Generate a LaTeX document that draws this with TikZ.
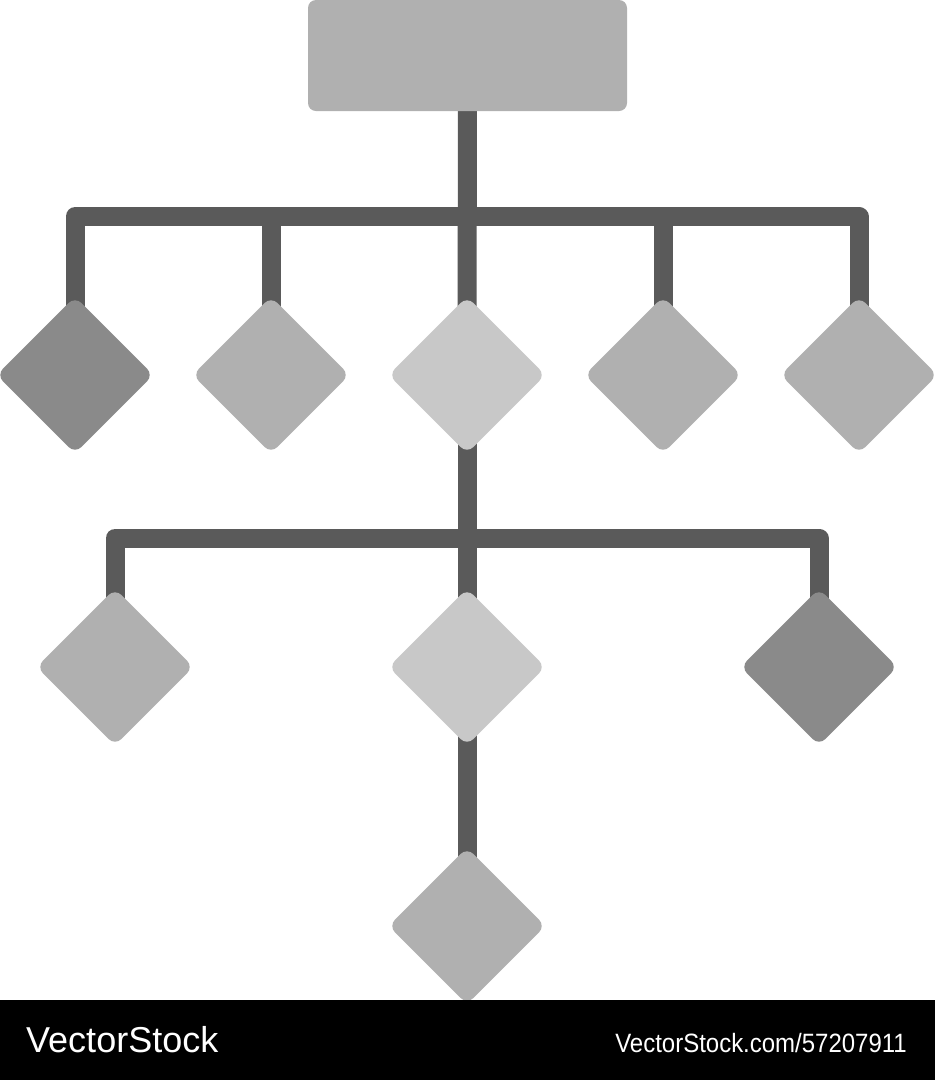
\documentclass[tikz,border=0pt]{standalone}
\usepackage{fontspec}
\newfontfamily\wmfont{Liberation Sans}
\usetikzlibrary{shapes.geometric,backgrounds}
\definecolor{linegray}{HTML}{5A5A5A}
\definecolor{darkgray}{HTML}{8A8A8A}
\definecolor{midgray}{HTML}{B0B0B0}
\definecolor{lightgray}{HTML}{C8C8C8}
\begin{document}
\begin{tikzpicture}[x=1pt,y=-1pt,
  dia/.style={diamond, minimum width=157pt, minimum height=157pt, inner sep=0pt,
              rounded corners=9pt, draw=none},
  topbox/.style={rectangle, minimum width=319pt, minimum height=111pt, inner sep=0pt,
                 rounded corners=8pt, fill=midgray, draw=none},
  conn/.style={draw=linegray, line width=19pt, line join=round, line cap=butt},
  wm/.style={text=white, inner sep=0pt, font=\wmfont}
]
\useasboundingbox (0,0) rectangle (935,1080);
% top box
\node[topbox] (top) at (467.5,55.5) {};
% first row
\node[dia, fill=darkgray]  (d1) at (75,375) {};
\node[dia, fill=midgray]   (d2) at (271,375) {};
\node[dia, fill=lightgray] (d3) at (467,375) {};
\node[dia, fill=midgray]   (d4) at (663,375) {};
\node[dia, fill=midgray]   (d5) at (859,375) {};
% second row
\node[dia, fill=midgray]   (e1) at (115,667) {};
\node[dia, fill=lightgray] (e2) at (467,667) {};
\node[dia, fill=darkgray]  (e3) at (819,667) {};
% bottom
\node[dia, fill=midgray]   (f) at (467,926) {};
% bar coordinates
\coordinate (b1l) at (75,216.5);
\coordinate (b1r) at (859,216.5);
\coordinate (b2l) at (115,538);
\coordinate (b2r) at (819,538);
\begin{scope}[on background layer]
  \fill[white] (0,0) rectangle (935,1080);
  \draw[conn] (top.center) -- (d3.center);
  \draw[conn] (d1.center) -- (b1l) -- (b1r) -- (d5.center);
  \draw[conn] (d2.center) -- (d2 |- b1l);
  \draw[conn] (d4.center) -- (d4 |- b1l);
  \draw[conn] (d3.center) -- (f.center);
  \draw[conn] (e1.center) -- (b2l) -- (b2r) -- (e3.center);
\end{scope}
% watermark band
\fill[black] (0,1000) rectangle (935,1080);
\node[wm, anchor=base west, font=\wmfont\fontsize{36}{40}\selectfont] (wmleft) at (26,1052) {VectorStock};
\node[wm, anchor=base east, font=\wmfont\fontsize{26.5}{30}\selectfont] (wmright) at (907,1052) {\scalebox{0.905}[1]{VectorStock.com/57207911}};
\end{tikzpicture}
\end{document}
